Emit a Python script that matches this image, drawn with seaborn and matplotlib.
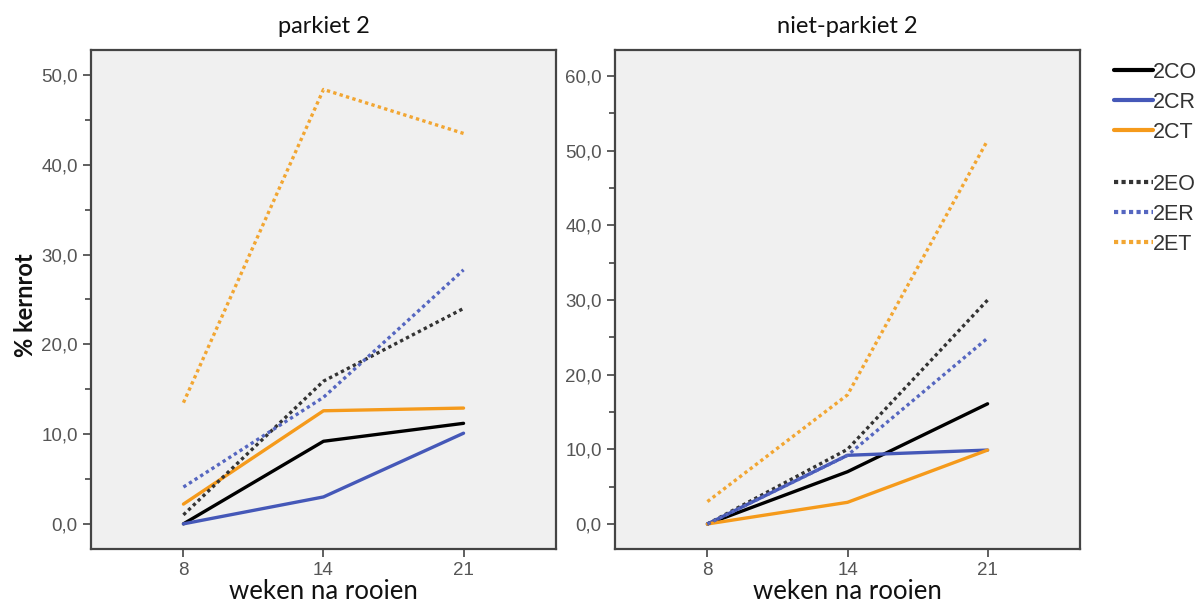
import matplotlib
matplotlib.use("Agg")
import matplotlib.pyplot as plt
from matplotlib.ticker import FuncFormatter, MultipleLocator
from matplotlib.lines import Line2D
import seaborn as sns
import pandas as pd

sns.set_theme(style="ticks")
plt.rcParams["font.family"] = ["Liberation Sans", "DejaVu Sans"]
label_font = ["Lato", "DejaVu Sans"]

weeks = ["8", "14", "21"]
series = ["2CO", "2CR", "2CT", "2EO", "2ER", "2ET"]

# % kernrot per week, parkiet 2
park_co = [0.0, 9.2, 11.2]
park_cr = [0.0, 3.0, 10.1]
park_ct = [2.2, 12.6, 12.9]
park_eo = [1.0, 15.9, 24.0]
park_er = [4.1, 14.1, 28.3]
park_et = [13.5, 48.4, 43.5]

# % kernrot per week, niet-parkiet 2
niet_co = [0.0, 7.0, 16.1]
niet_cr = [0.0, 9.2, 9.9]
niet_ct = [0.0, 2.9, 9.9]
niet_eo = [0.0, 10.0, 30.0]
niet_er = [0.0, 9.2, 24.9]
niet_et = [3.0, 17.3, 51.4]

palette = {
    "2CO": "#000000", "2CR": "#4558B8", "2CT": "#F59A1B",
    "2EO": "#333333", "2ER": "#5566C0", "2ET": "#F2A632",
}
dash_styles = {
    "2CO": "", "2CR": "", "2CT": "",
    "2EO": (1, 1), "2ER": (1, 1), "2ET": (1, 1),
}


def long_table(values):
    rows = []
    for name, vals in zip(series, values):
        for w, v in zip(weeks, vals):
            rows.append({"week": w, "serie": name, "kernrot": v})
    return pd.DataFrame(rows)


df_park = long_table([park_co, park_cr, park_ct, park_eo, park_er, park_et])
df_niet = long_table([niet_co, niet_cr, niet_ct, niet_eo, niet_er, niet_et])

fig = plt.figure(figsize=(11.99, 6.05), dpi=100)
ax1 = fig.add_axes([0.0759, 0.0926, 0.3878, 0.8248])
ax2 = fig.add_axes([0.5129, 0.0926, 0.3879, 0.8248])

comma = FuncFormatter(lambda v, p: f"{v:.1f}".replace(".", ","))

panels = [
    (ax1, df_park, "parkiet 2", (-2.8, 52.8)),
    (ax2, df_niet, "niet-parkiet 2", (-3.35, 63.5)),
]
for ax, df, title, ylim in panels:
    sns.lineplot(data=df, x="week", y="kernrot", hue="serie", style="serie",
                 palette=palette, dashes=dash_styles, linewidth=2.4,
                 sort=False, legend=False, ax=ax)
    ax.set_facecolor("#F0F0F0")
    ax.set_xlim(-0.66, 2.66)
    ax.set_ylim(*ylim)
    ax.yaxis.set_major_locator(MultipleLocator(10))
    ax.yaxis.set_minor_locator(MultipleLocator(5))
    ax.yaxis.set_major_formatter(comma)
    for sp in ax.spines.values():
        sp.set_visible(True)
        sp.set_color("#444444")
        sp.set_linewidth(1.6)
    ax.tick_params(axis="both", which="major", length=6, width=1.2,
                   color="#444444", labelcolor="#555555", labelsize=13.5)
    ax.tick_params(axis="y", which="minor", length=4, width=1.2, color="#444444")
    ax.set_title(title, fontsize=17, color="#111111", pad=12, family=label_font)
    ax.set_xlabel("weken na rooien", fontsize=18.5, color="#111111",
                  labelpad=0, family=label_font)
    ax.set_ylabel("")

fig.text(0.021, 0.495, "% kernrot", rotation=90, ha="center", va="center",
         fontsize=17, fontweight="bold", color="#111111", family=label_font)

solid_handles = [Line2D([], [], color=palette[s], lw=3) for s in series[:3]]
dotted_handles = [Line2D([], [], color=palette[s], lw=3, linestyle=(0, (1, 0.8)))
                  for s in series[3:]]
leg_kw = dict(frameon=False, handlelength=1.8, handletextpad=0.0,
              labelspacing=0.42, labelcolor="#333333",
              prop={"family": "Liberation Sans", "size": 15.5},
              borderaxespad=0, borderpad=0)
fig.legend(solid_handles, series[:3], loc="upper left",
           bbox_to_anchor=(0.929, 0.898), **leg_kw)
fig.legend(dotted_handles, series[3:], loc="upper left",
           bbox_to_anchor=(0.929, 0.713), **leg_kw)

fig.savefig("out.png", dpi=100)
